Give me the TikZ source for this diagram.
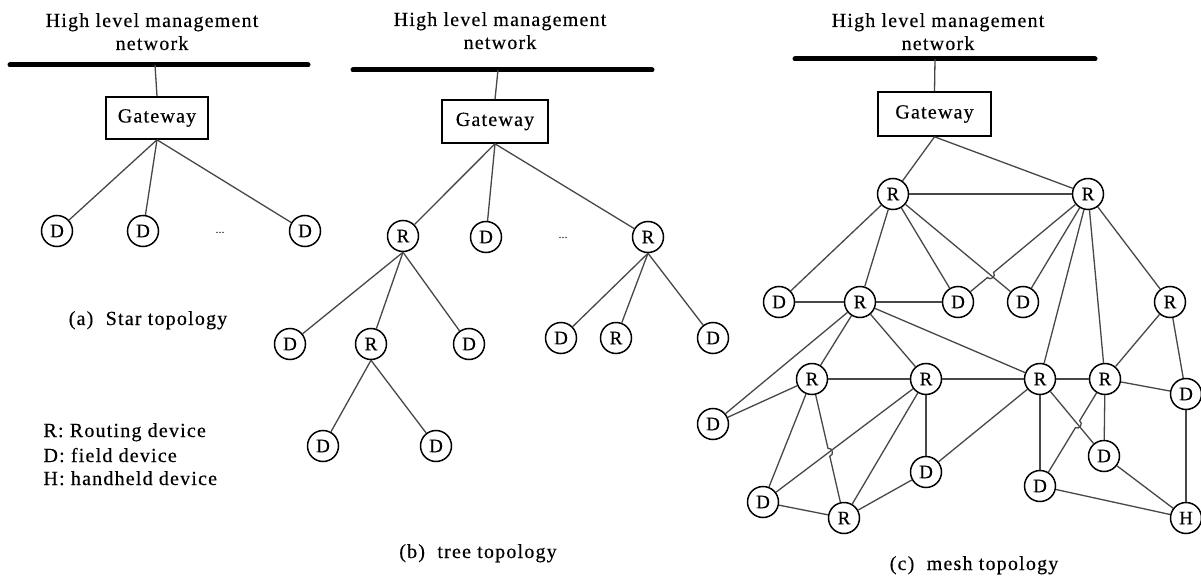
\documentclass[tikz,border=0pt]{standalone}
\usepackage{fontspec}
\setmainfont{Liberation Serif}
\newfontfamily\spaced[LetterSpace=6,FakeBold=0.4]{Liberation Serif}
\newfontfamily\tagfont[FakeBold=0.4]{Liberation Serif}
\usetikzlibrary{calc,intersections}

\tikzset{
  bus/.style={line width=5pt, line cap=round},
  link/.style={draw=black!72, line width=1.3pt},
  dev/.style={circle, draw, line width=1.5pt, minimum size=31pt, inner sep=0pt,
              font=\tagfont\fontsize{19}{19}\selectfont},
  gwbox/.style={rectangle, draw, line width=1.6pt, inner sep=0pt,
                font=\spaced\fontsize{20}{24}\selectfont},
  title/.style={align=center, anchor=base, font=\spaced\fontsize{20}{23}\selectfont},
  caption/.style={anchor=base, font=\spaced\fontsize{20}{24}\selectfont},
  dots/.style={font=\fontsize{12}{12}\selectfont},
}

% hop: draw A--B with a small bump where it crosses an already named path
\newcommand{\hopline}[3]{%
  \path[name path=hopA] (#1) -- (#2);
  \path[name intersections={of=hopA and #3, by=hx}];
  \draw[link] (#1) -- ($(hx)!4pt!(#1)$) to[bend left=90, looseness=1.5] ($(hx)!4pt!(#2)$) -- (#2);
}

\begin{document}
\begin{tikzpicture}[x=1pt, y=-1pt]
\useasboundingbox[fill=white] (0,0) rectangle (1201,580);

% ---------------- (a) star topology ----------------
\node[title] (ta) at (152,50) {High level management\\network};
\coordinate (aL) at (10,65); \coordinate (aR) at (308,65);
\draw[bus] (aL) -- (aR);
\coordinate (aTap) at (155,65);
\node[gwbox, minimum width=102pt, minimum height=42pt] (gwa) at (157,118) {Gateway};
\draw[link] (aTap) -- (gwa.north);
\node[dev] (a1) at (57,231) {D};
\node[dev] (a2) at (143,231) {D};
\node[dev] (a3) at (305,231) {D};
\node[dots] (adots) at (220,233) {...};
\foreach \n in {a1,a2,a3} \draw[link] (gwa.south) -- (\n);
\node[caption] (capa) at (148,325) {(a)\ \ Star topology};

% legend
\node[caption, anchor=base west] (lg1) at (40,437) {R: Routing device};
\node[caption, anchor=base west] (lg2) at (40,462) {D: field device};
\node[caption, anchor=base west] (lg3) at (40,485) {H: handheld device};

% ---------------- (b) tree topology ----------------
\node[title] (tb) at (500,49) {High level management\\network};
\coordinate (bL) at (353,70); \coordinate (bR) at (652,70);
\draw[bus] (bL) -- (bR);
\coordinate (bTap) at (498,70);
\node[gwbox, minimum width=106pt, minimum height=43pt] (gwb) at (495,121.5) {Gateway};
\draw[link] (bTap) -- (gwb.north);
\node[dev] (b1) at (403,236) {R};
\node[dev] (b2) at (486,237) {D};
\node[dev] (b3) at (648,237) {R};
\node[dots] (bdots) at (563,238) {...};
\foreach \n in {b1,b2,b3} \draw[link] (gwb.south) -- (\n);
\node[dev] (b11) at (290,344) {D};
\node[dev] (b12) at (371,344) {R};
\node[dev] (b13) at (469,344) {D};
\foreach \n in {b11,b12,b13} \draw[link] (b1.south) -- (\n);
\node[dev] (b121) at (323,446) {D};
\node[dev] (b122) at (436,446) {D};
\foreach \n in {b121,b122} \draw[link] (b12.south) -- (\n);
\node[dev] (b31) at (561,338) {D};
\node[dev] (b32) at (616,338) {R};
\node[dev] (b33) at (713,338) {D};
\foreach \n in {b31,b32,b33} \draw[link] (b3.south) -- (\n);
\node[caption] (capb) at (478,558) {(b)\ \ tree topology};

% ---------------- (c) mesh topology ----------------
\node[title] (tc) at (938,50) {High level management\\network};
\coordinate (cL) at (795,59); \coordinate (cR) at (1095,59);
\draw[bus] (cL) -- (cR);
\coordinate (cTap) at (935,59);
\node[gwbox, minimum width=113pt, minimum height=44pt] (gwc) at (934.5,114) {Gateway};
\draw[link] (cTap) -- (gwc.north);

\node[dev] (m1) at (893,194) {R};
\node[dev] (m2) at (1088,194) {R};
\node[dev] (m3) at (779,302) {D};
\node[dev] (m4) at (860,302) {R};
\node[dev] (m5) at (958,302) {D};
\node[dev] (m6) at (1023,302) {D};
\node[dev] (m7) at (1170,302) {R};
\node[dev] (m8) at (812,379) {R};
\node[dev] (m9) at (926,379) {R};
\node[dev] (m10) at (1040,379) {R};
\node[dev] (m11) at (1105,379) {R};
\node[dev] (m12) at (1186,394) {D};
\node[dev] (m13) at (713,424) {D};
\node[dev] (m14) at (926,472) {D};
\node[dev] (m15) at (1104,456) {D};
\node[dev] (m16) at (1040,486) {D};
\node[dev] (m17) at (763,502) {D};
\node[dev] (m18) at (844,518) {R};
\node[dev] (m19) at (1186,518) {H};

\draw[link] (gwc.south) -- (m1);
\draw[link] (gwc.south) -- (m2);
\draw[link, name path=e16] (m1) -- (m6);
\foreach \a/\b in {m1/m2, m1/m3, m1/m4, m1/m5,
                   m2/m6, m2/m10, m2/m11, m2/m7,
                   m3/m4, m4/m5, m4/m10, m4/m8, m4/m9, m4/m13,
                   m8/m13, m8/m9, m9/m10, m10/m11,
                   m8/m17, m18/m9, m9/m14, m17/m18, m18/m14,
                   m10/m14, m10/m16, m11/m15, m11/m7, m11/m12,
                   m7/m12, m12/m19, m15/m19, m16/m19}
  \draw[link] (\a) -- (\b);
\draw[link, name path=e179] (m17) -- (m9);
\draw[link, name path=e1015] (m10) -- (m15);
\hopline{m2}{m5}{e16}
\hopline{m8}{m18}{e179}
\hopline{m11}{m16}{e1015}

\node[caption] (capc) at (974,570) {(c)\ \ mesh topology};
\end{tikzpicture}
\end{document}
